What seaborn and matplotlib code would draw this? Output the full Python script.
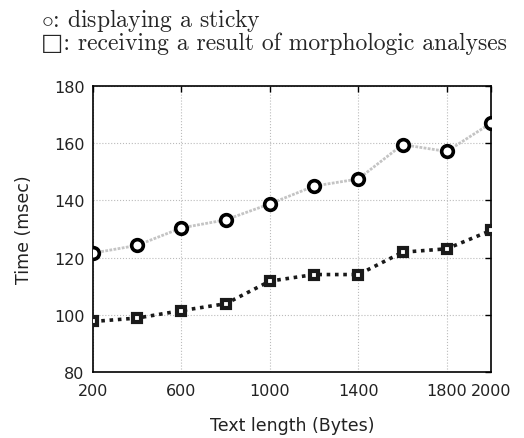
import matplotlib
matplotlib.use('Agg')
import matplotlib.pyplot as plt
import seaborn as sns
import pandas as pd

# text length (bytes)
lengths = [200, 400, 600, 800, 1000, 1200, 1400, 1600, 1800, 2000]
# time for displaying a sticky (msec)
sticky_ms = [121.6, 124.3, 130.4, 133.2, 138.8, 145.0, 147.5, 159.5, 157.1, 167.0]
# time for receiving morphologic analysis result (msec)
morph_ms = [97.7, 98.9, 101.5, 103.9, 111.8, 114.1, 114.1, 121.9, 123.1, 129.5]

x_ticks = [200, 600, 1000, 1400, 1800, 2000]
y_ticks = [80, 100, 120, 140, 160, 180]

df = pd.DataFrame({'length': lengths, 'sticky': sticky_ms, 'morph': morph_ms})

sns.set_style('white')
plt.rcParams['font.family'] = ['DejaVu Sans']
plt.rcParams['mathtext.fontset'] = 'cm'

fig = plt.figure(figsize=(5.24, 4.39), dpi=100)
ax = fig.add_axes([0.1775, 0.150, 0.7595, 0.652])

sns.lineplot(data=df, x='length', y='sticky', ax=ax, color='#c4c4c4', lw=2.0,
             ls=(0, (1, 0.5)), marker='o', markersize=8.4, mfc='white',
             mec='black', mew=2.6, zorder=3)
sns.lineplot(data=df, x='length', y='morph', ax=ax, color='#1a1a1a', lw=2.6,
             ls=(0, (1, 1.3)), marker='s', markersize=6.4, mfc='white',
             mec='#1a1a1a', mew=3.0, zorder=3)

ax.set_xlim(200, 2000)
ax.set_ylim(80, 180)
ax.set_xticks(x_ticks)
ax.set_yticks(y_ticks)
ax.grid(True, color='#bbbbbb', ls=':', lw=0.8)
for s in ax.spines.values():
    s.set_color('black')
    s.set_linewidth(1.2)
ax.tick_params(direction='in', length=4, width=1, top=True, right=True,
               labelsize=11.5, colors='black')
ax.tick_params(axis='x', pad=8)
ax.tick_params(axis='y', pad=6)
for lab in ax.get_xticklabels() + ax.get_yticklabels():
    lab.set_color('#222222')

ax.set_xlabel('Text length (Bytes)', fontsize=12.5, color='#222222', labelpad=13)
ax.set_ylabel('Time (msec)', fontsize=12.5, color='#222222', labelpad=15)

fig.text(0.078, 0.938, r'$\circ$: displaying a sticky', fontsize=17,
         family=['cmr10', 'DejaVu Serif'], va='baseline')
fig.text(0.078, 0.886, '□: receiving a result of morphologic analyses', fontsize=17,
         family=['cmr10', 'DejaVu Serif'], va='baseline')

fig.savefig('out.png', dpi=100)
